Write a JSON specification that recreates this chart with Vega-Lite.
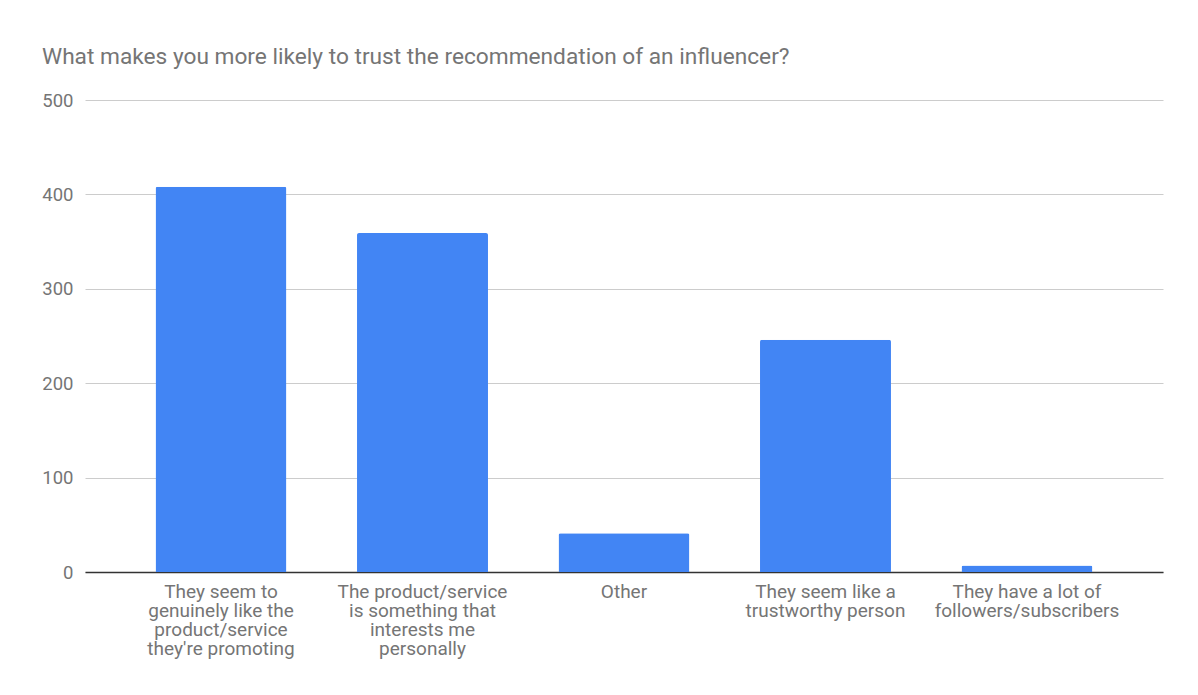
{
  "$schema": "https://vega.github.io/schema/vega-lite/v6.json",
  "width": 1078,
  "height": 472,
  "autosize": {"type": "none"},
  "padding": {"left": 85, "top": 100, "right": 35, "bottom": 123},
  "background": "#ffffff",
  "title": {
    "text": "What makes you more likely to trust the recommendation of an influencer?",
    "anchor": "start",
    "frame": "group",
    "dx": -43,
    "offset": 22,
    "font": "Roboto",
    "fontSize": 22.7,
    "fontWeight": "normal",
    "color": "#757575"
  },
  "data": {
    "values": [
      {"answer": "They seem to|genuinely like the|product/service|they're promoting", "count": 408},
      {"answer": "The product/service|is something that|interests me|personally", "count": 359},
      {"answer": "Other", "count": 41},
      {"answer": "They seem like a|trustworthy person", "count": 246},
      {"answer": "They have a lot of|followers/subscribers", "count": 7}
    ]
  },
  "mark": {"type": "bar", "color": "#4285F4", "cornerRadiusTopLeft": 2, "cornerRadiusTopRight": 2},
  "encoding": {
    "x": {
      "field": "answer",
      "type": "nominal",
      "sort": null,
      "scale": {"paddingInner": 0.35, "paddingOuter": 0.35},
      "axis": {
        "title": null,
        "labelAngle": 0,
        "labelExpr": "split(datum.label, '|')",
        "labelFont": "Roboto",
        "labelFontSize": 19,
        "labelColor": "#757575",
        "labelLineHeight": 19.3,
        "labelPadding": 10,
        "labelLimit": 300,
        "ticks": false,
        "domainColor": "#333333",
        "domainWidth": 1.5
      }
    },
    "y": {
      "field": "count",
      "type": "quantitative",
      "scale": {"domain": [0, 500]},
      "axis": {
        "title": null,
        "values": [0, 100, 200, 300, 400, 500],
        "labelFont": "Roboto",
        "labelFontSize": 18.5,
        "labelColor": "#757575",
        "labelPadding": 12,
        "ticks": false,
        "domain": false,
        "gridColor": "#cccccc",
        "gridWidth": 1
      }
    }
  },
  "config": {"view": {"stroke": null}}
}
